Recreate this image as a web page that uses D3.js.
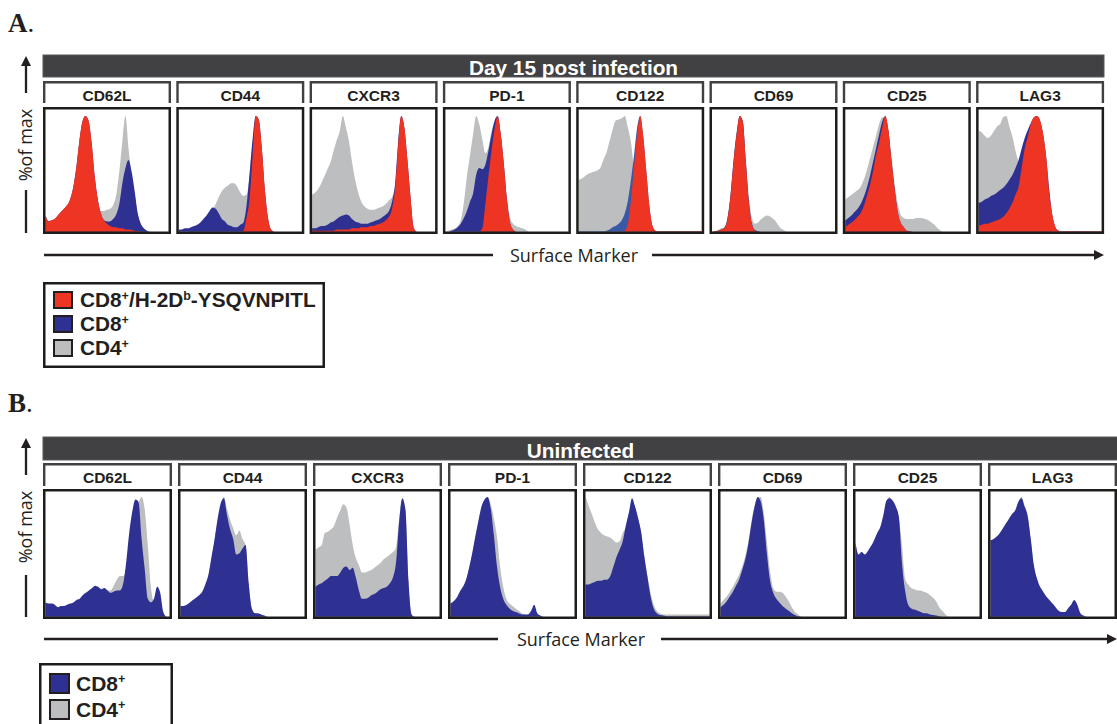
<!DOCTYPE html>
<html>
<head>
<meta charset="utf-8">
<script src="https://cdnjs.cloudflare.com/ajax/libs/d3/7.8.5/d3.min.js"></script>
<style>
  body { margin: 0; background: #fff; }
  svg text { fill: #231f20; }
</style>
</head>
<body>
<div id="figure"></div>
<script>
var svgWidth = 1117;
var svgHeight = 724;

// marker order, same for both panels
var markers = ["CD62L", "CD44", "CXCR3", "PD-1", "CD122", "CD69", "CD25", "LAG3"];

// histograms: % of max, 41 equal bins across each box (trailing empty bins left out)
// Panel A, day 15 post infection
var d15Tet = [
  [14,9,10,11,14, 17,20,23,28,38, 55,78,95,100,96, 77,48,28,16,10, 7,5,4,4,3, 3,2,2,1.5,1, 0.5,0],
  [0,0,0,0,0, 0,0,0,0,0, 0,0,0,0,0, 0,0,0,0,0, 0,1,12,28,65, 100,97,72,36,12, 2,0],
  [1,1,1,1,1, 1,1,1,2,2, 2,2,2,3,3, 3,4,4,4,5, 5,6,7,8,10, 13,20,38,75,100, 90,62,30,4,0],
  [0,0,0,0,0, 0,0,0,0,0, 0,0,3,24,48, 70,89,100,84,58, 28,8,2,0],
  [0,0,0,0,0, 0,0,0,0,0, 0,0,0,0,0, 1,7,27,56,84, 100,82,52,22,5, 1,0.5,0.5,0.5,0.5, 0.5,0.5,0.5,0.5,0.5, 0.5,0.5,0.5,0.5,0.5, 0.5],
  [0,0.5,1,2,3, 10,30,60,84,100, 95,60,25,6,1, 0],
  [4,6,8,10,13, 16,22,31,40,52, 66,77,90,100,88, 62,38,18,8,4, 1,0.5,0],
  [5,6,7,7,8, 9,10,11,13,16, 20,25,32,39,55, 72,82,93,99,100, 96,84,64,33,14, 4,1,0.5,0.5,0.5, 0.5,0.5,0.5,0.5,0.5, 0.5,0.5,0.5,0.5,0.5, 0.5]
];
var d15CD8 = [
  [14,9,10,11,14, 17,20,23,28,38, 55,78,95,100,96, 77,48,28,16,10, 9,9,11,15,24, 42,55,62,52,35, 16,7,3,1,0],
  [2,2,3,3,4, 5,6,8,11,14, 18,21,20,16,11, 9,6,5,4,4, 6,8,22,50,80, 100,97,72,36,12, 2,0],
  [3,3,4,5,5, 6,8,9,11,13, 14,15,14,11,9, 8,7,7,7,8, 9,10,11,13,15, 18,26,42,78,100, 90,62,30,4,0],
  [0,0,1,2,4, 7,12,18,26,33, 49,55,54,58,70, 84,96,100,84,58, 28,8,2,0],
  [0.5,0.5,0.5,0.5,0.5, 0.5,0.5,0.5,0.5,1, 2,4,5,7,10, 16,27,45,66,90, 100,82,52,22,5, 1,0.5,0.5,0.5,0.5, 0.5,0.5,0.5,0.5,0.5, 0.5,0.5,0.5,0.5,0.5, 0.5],
  [0,0.5,1,2,3.5, 11,31,61,85,100, 96,61,26,7,1.5, 0.5,0],
  [10,12,14,17,20, 24,30,38,48,60, 72,84,95,100,88, 62,38,18,8,4, 1,0.5,0],
  [25,26,28,29,31, 32,34,36,38,41, 45,49,55,62,72, 81,88,94,99,100, 96,84,64,36,14, 4,1,0.5,0.5,0.5, 0.5,0.5,0.5,0.5,0.5, 0.5,0.5,0.5,0.5,0.5, 0.5]
];
var d15CD4 = [
  [12,8,9,10,12, 15,18,21,26,35, 50,70,85,90,85, 70,45,26,18,18, 19,20,23,32,52, 78,100,72,48,32, 15,6,2,1,0],
  [0,0,0,0,1, 1,2,3,5,8, 13,19,24,30,35, 38,40,42,42,39, 34,31,32,48,78, 98,95,70,34,10, 2,0],
  [32,34,37,42,48, 54,60,70,79,87, 100,90,78,60,45, 34,26,22,20,19, 19,20,21,22,24, 27,30,38,50,45, 35,22,10,2,0],
  [0,1,2,3,5, 10,25,48,66,84, 100,93,80,68,73, 87,95,98,84,60, 30,13,7,5,4, 3,2,0],
  [45,46,48,50,51, 52,53,55,62,68, 78,88,96,97,98, 100,90,77,55,35, 20,10,5,2,1, 0.5,0.5,0.5,0.5,0.5, 0.5,0.5,0.5,0.5,0.5, 0.5,0.5,0.5,0.5,0.5, 0.5],
  [0,0.5,1.5,3,4, 12,32,62,85,97, 95,62,30,12,7, 8,11,13,14,13, 11,8,4,2,0.5, 0],
  [28,30,32,34,36, 39,45,53,63,73, 83,93,99,98,88, 66,42,25,15,12, 11,11,11,12,12, 12,11,10,8,6, 3,1,0],
  [87,86,83,81,83, 87,91,93,99,100, 91,82,70,60,52, 45,40,35,30,25, 20,14,9,5,2, 1,0]
];

// Panel B, uninfected
var uninfCD8 = [
  [12,11,11,10,8, 9,9,10,11,12, 14,15,18,20,22, 24,26,25,23,24, 22,20,21,22,22, 27,45,70,88,98, 96,65,40,15,12, 15,25,20,4,0],
  [9,9,10,12,14, 16,18,21,27,35, 50,65,82,95,99, 85,73,65,52,53, 57,60,28,7,3, 3,2,1,0],
  [25,27,28,30,32, 34,34,34,37,41, 42,39,41,33,22, 15,15,16,18,19, 21,23,24,25,28, 33,46,80,99,90, 30,2,0],
  [11,13,16,21,25, 31,41,53,67,80, 92,98,100,90,68, 42,25,15,10,7, 5,4,3,2,2, 2,5,10,3,1, 0],
  [27,27,28,29,30, 30,31,31,34,42, 50,56,63,76,87, 99,92,82,70,50, 33,17,7,3,1.5, 1,0.5,0.5,0.5,0.5, 0.5,0.5,0.5,0.5,0.5, 0.5,0.5,0.5,0.5,0.5, 0.5],
  [8,10,13,17,21, 26,31,39,48,61, 78,92,100,96,80, 52,30,20,15,12, 9,7,5,3,1.5, 0.5,0],
  [62,52,54,52,55, 59,64,70,75,85, 97,99,97,92,83, 45,22,10,7,6, 5,4,3,3,2, 1.5,1,0.5,0],
  [64,65,67,70,74, 78,82,86,89,96, 99,92,84,65,43, 32,25,21,17,14, 11,8,5,4,4, 7,10,14,10,3, 1,0]
];
var uninfCD4 = [
  [11,10,10,9,7, 8,8,9,10,11, 13,14,17,19,21, 23,25,24,22,23, 22,22,26,31,34, 34,40,60,78,88, 95,100,90,60,25, 13,14,8,2,0],
  [8,8,9,11,13, 15,17,20,26,34, 49,64,81,93,100, 90,81,74,68,72, 65,60,28,7,3, 2,1,0],
  [56,58,60,70,71, 73,76,83,89,94, 91,77,60,49,43, 37,37,38,39,41, 43,45,48,50,52, 54,58,82,97,88, 28,1,0],
  [10,12,15,20,24, 30,40,52,66,79, 91,97,99,94,82, 67,42,25,15,11, 9,7,5,3,2, 1,0],
  [100,93,86,79,73, 70,68,67,66,64, 62,63,70,75,86, 97,91,81,69,50, 34,20,10,5,3, 2,2,2,2,2, 2,2,2,2,2, 2,2,2,2,2, 2],
  [11,14,17,21,25, 30,35,42,51,63, 80,93,99,100,86, 62,38,24,21,21, 20,17,13,8,4, 2,0],
  [61,51,53,51,54, 58,63,69,74,84, 96,100,96,91,82, 60,32,27,24,23, 22,22,21,20,18, 16,13,8,5,2, 0],
  [63,64,66,69,73, 77,81,85,89,96, 100,93,84,64,42, 31,24,20,16,13, 10,7,4,3,3, 6,9,13,9,2, 0]
];

// legend labels, ^ marks the next character as superscript
var legendA = ["CD8^+/H-2D^b-YSQVNPITL", "CD8^+", "CD4^+"];
var legendB = ["CD8^+", "CD4^+"];

var red = "#ee3524", blue = "#2e3192", grey = "#bcbec0";
var sans = "'Liberation Sans', Arial, Helvetica, sans-serif";
var myriad = "'Open Sans', 'Noto Sans', sans-serif";
var serif = "'Liberation Serif', 'Times New Roman', serif";

var panels = [
  {
    letter: "A", letterY: 32, title: "Day 15 post infection",
    barY: 55, barH: 22, barW: 1061,
    headY: 81, headH: 22, boxY: 107, boxH: 127, boxW: 128, pitch: 133.3, peakPad: 9,
    layers: [
      {vals: d15CD4, fill: grey},
      {vals: d15CD8, fill: blue, alt: {4: "#3b58a7"}},
      {vals: d15Tet, fill: red}
    ],
    axisY: 255, axisText: 574, leftEnd: 493, rightStart: 652, arrowEnd: 1104,
    yTip: 56, yLine1: 93, yText: 145, yLine2a: 190, yLine2b: 233,
    legend: {x: 43, y: 282, w: 282, h: 86, swX: 53, swW: 20, swH: 18, rowY: 291, step: 24, textX: 80, size: 20.8,
      labels: legendA, fills: [red, blue, grey]}
  },
  {
    letter: "B", letterY: 412, title: "Uninfected",
    barY: 437, barH: 23, barW: 1075,
    headY: 463, headH: 23, boxY: 489, boxH: 130, boxW: 129, pitch: 135, peakPad: 8,
    layers: [
      {vals: uninfCD4, fill: grey},
      {vals: uninfCD8, fill: blue}
    ],
    axisY: 639, axisText: 581, leftEnd: 498, rightStart: 661, arrowEnd: 1117,
    yTip: 438, yLine1: 475, yText: 527, yLine2a: 575, yLine2b: 617,
    legend: {x: 39, y: 663, w: 134, h: 80, swX: 49, swW: 21, swH: 21, rowY: 673, step: 26, textX: 76, size: 21,
      labels: legendB, fills: [blue, grey]}
  }
];

var svg = d3.select("#figure")
  .append("svg")
  .attr("width", svgWidth)
  .attr("height", svgHeight);

var defs = svg.append("defs");

panels.forEach(function(p, pi) {
  var g = svg.append("g");

  var letter = g.append("text")
    .attr("x", 8)
    .attr("y", p.letterY)
    .style("font-family", serif)
    .style("font-size", "27px");
  letter.append("tspan").style("font-weight", "bold").text(p.letter);
  letter.append("tspan").text(".");

  // dark title bar
  g.append("rect")
    .attr("x", 43)
    .attr("y", p.barY)
    .attr("width", p.barW)
    .attr("height", p.barH)
    .attr("fill", "#414042")
    .attr("stroke", "#58595b")
    .attr("stroke-width", 1);

  g.append("text")
    .attr("x", 43 + p.barW / 2)
    .attr("y", p.barY + p.barH - 2.5)
    .attr("text-anchor", "middle")
    .style("fill", "#fff")
    .style("font-family", sans)
    .style("font-weight", "bold")
    .style("font-size", "20.8px")
    .text(p.title);

  markers.forEach(function(m, i) {
    var bx = 43 + i * p.pitch;

    // tab header, open at the bottom
    g.append("path")
      .attr("d", "M" + (bx + 1.2) + "," + (p.headY + p.headH) + "V" + (p.headY + 1.2) +
        "H" + (bx + p.boxW - 1.2) + "V" + (p.headY + p.headH))
      .attr("fill", "none")
      .attr("stroke", "#414042")
      .attr("stroke-width", 2.4);

    g.append("text")
      .attr("x", bx + p.boxW / 2)
      .attr("y", p.headY + 20)
      .attr("text-anchor", "middle")
      .style("font-family", sans)
      .style("font-weight", "bold")
      .style("font-size", "15.5px")
      .text(m);

    var clipId = "clip" + pi + "_" + i;
    defs.append("clipPath")
      .attr("id", clipId)
      .append("rect")
      .attr("x", bx + 1)
      .attr("y", p.boxY + 1)
      .attr("width", p.boxW - 2)
      .attr("height", p.boxH - 2);

    var x = d3.scaleLinear().domain([0, 40]).range([bx + 2.5, bx + p.boxW - 2.5]);
    var y = d3.scaleLinear().domain([0, 100]).range([p.boxY + p.boxH - 2.2, p.boxY + p.peakPad]);

    var area = d3.area()
      .x(function(d, k) { return x(k); })
      .y0(y(0))
      .y1(function(d) { return y(d); })
      .curve(d3.curveMonotoneX);

    var plot = g.append("g").attr("clip-path", "url(#" + clipId + ")");
    p.layers.forEach(function(layer) {
      plot.append("path")
        .datum(layer.vals[i])
        .attr("d", area)
        .attr("fill", (layer.alt && layer.alt[i]) || layer.fill);
    });

    g.append("rect")
      .attr("x", bx + 1.25)
      .attr("y", p.boxY + 1.25)
      .attr("width", p.boxW - 2.5)
      .attr("height", p.boxH - 2.5)
      .attr("fill", "none")
      .attr("stroke", "#1d1d1b")
      .attr("stroke-width", 2.5);
  });

  // vertical "% of max" arrow
  var ax = 26;
  g.append("path")
    .attr("d", "M" + ax + "," + p.yTip + "L" + (ax - 5) + "," + (p.yTip + 10) + "L" + (ax + 5) + "," + (p.yTip + 10) + "Z")
    .attr("fill", "#231f20");
  g.append("line")
    .attr("x1", ax).attr("x2", ax)
    .attr("y1", p.yTip + 8).attr("y2", p.yLine1)
    .attr("stroke", "#231f20").attr("stroke-width", 2.3);
  g.append("line")
    .attr("x1", ax).attr("x2", ax)
    .attr("y1", p.yLine2a).attr("y2", p.yLine2b)
    .attr("stroke", "#231f20").attr("stroke-width", 2.3);
  g.append("text")
    .attr("transform", "translate(" + (ax + 6) + "," + p.yText + ") rotate(-90)")
    .attr("text-anchor", "middle")
    .style("font-family", myriad)
    .style("font-size", "18px")
    .text("%of max");

  // horizontal "Surface Marker" arrow
  g.append("line")
    .attr("x1", 44).attr("x2", p.leftEnd)
    .attr("y1", p.axisY).attr("y2", p.axisY)
    .attr("stroke", "#231f20").attr("stroke-width", 2.3);
  g.append("line")
    .attr("x1", p.rightStart).attr("x2", p.arrowEnd - 8)
    .attr("y1", p.axisY).attr("y2", p.axisY)
    .attr("stroke", "#231f20").attr("stroke-width", 2.3);
  g.append("path")
    .attr("d", "M" + p.arrowEnd + "," + p.axisY + "L" + (p.arrowEnd - 10) + "," + (p.axisY - 5) +
      "L" + (p.arrowEnd - 10) + "," + (p.axisY + 5) + "Z")
    .attr("fill", "#231f20");
  g.append("text")
    .attr("x", p.axisText)
    .attr("y", p.axisY + 6.5)
    .attr("text-anchor", "middle")
    .style("font-family", myriad)
    .style("font-size", "18px")
    .text("Surface Marker");

  // legend
  var L = p.legend;
  g.append("rect")
    .attr("x", L.x + 1.25)
    .attr("y", L.y + 1.25)
    .attr("width", L.w - 2.5)
    .attr("height", L.h - 2.5)
    .attr("fill", "#fff")
    .attr("stroke", "#1d1d1b")
    .attr("stroke-width", 2.5);

  L.labels.forEach(function(lab, k) {
    var ry = L.rowY + k * L.step;
    g.append("rect")
      .attr("x", L.swX + 1)
      .attr("y", ry + 1)
      .attr("width", L.swW - 2)
      .attr("height", L.swH - 2)
      .attr("fill", L.fills[k])
      .attr("stroke", "#231f20")
      .attr("stroke-width", 2);

    var t = g.append("text")
      .attr("x", L.textX)
      .attr("y", ry + L.swH / 2 + L.size * 0.36)
      .style("font-family", sans)
      .style("font-weight", "bold")
      .style("font-size", L.size + "px");
    var parts = lab.split(/(\^.)/).filter(function(s) { return s.length; });
    var raised = false;
    parts.forEach(function(s) {
      if (s[0] === "^") {
        t.append("tspan")
          .attr("dy", -L.size * 0.38)
          .style("font-size", (L.size * 0.6) + "px")
          .text(s[1]);
        raised = true;
      } else {
        t.append("tspan")
          .attr("dy", raised ? L.size * 0.38 : 0)
          .text(s);
        raised = false;
      }
    });
  });
});
</script>
</body>
</html>
